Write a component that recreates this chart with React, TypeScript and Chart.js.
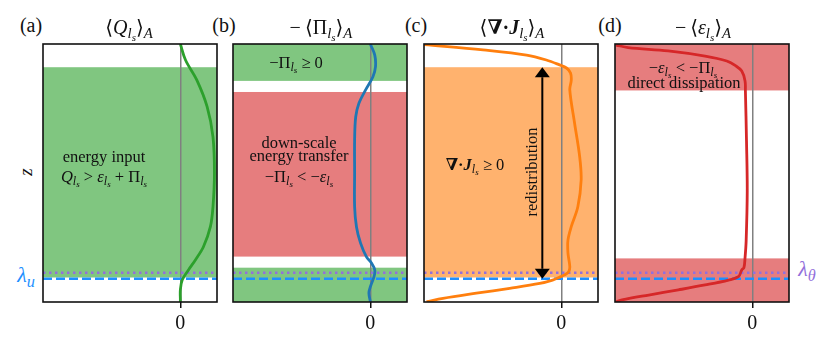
import React, { useEffect, useRef } from "react";
import { Chart, registerables } from "chart.js";
Chart.register(...registerables);

// ---------- data ----------
const X_MIN = -3.75;
const X_MAX = 1;
const xTicks = [0];
const lambdaU = 0.0903;
const lambdaTheta = 0.1136;

// (a) <Q>
const qZ = [1.0, 0.938, 0.86, 0.757, 0.64, 0.5, 0.369, 0.292, 0.214, 0.163, 0.124, 0.085, 0.047, 0.008, 0];
const qVal = [0, 0.14, 0.45, 0.73, 0.89, 0.93, 0.89, 0.82, 0.63, 0.41, 0.22, 0.05, 0, 0, 0];

// (b) -<Pi>
const piZ = [1.0, 0.957, 0.912, 0.873, 0.822, 0.771, 0.718, 0.628, 0.5, 0.369, 0.292, 0.229, 0.176, 0.151, 0.124, 0.098, 0.059, 0.035, 0.001];
const piVal = [0, 0.12, 0.14, 0.07, -0.13, -0.31, -0.4, -0.43, -0.43, -0.43, -0.38, -0.27, -0.11, 0.03, 0.12, 0.1, 0, -0.04, 0];

// (c) <div J>
const divZ = [0.998, 0.977, 0.957, 0.938, 0.919, 0.907, 0.888, 0.86, 0.822, 0.694, 0.563, 0.473, 0.369, 0.292, 0.24, 0.19, 0.137, 0.117, 0.105, 0.096, 0.085, 0.072, 0.053, 0.034, 0.014, 0.001];
const divVal = [-3.74, -2.14, -0.95, -0.41, -0.05, 0.14, 0.25, 0.27, 0.23, 0.36, 0.5, 0.54, 0.45, 0.27, 0.18, 0.18, 0.23, 0.2, 0.09, -0.05, -0.24, -0.59, -1.41, -2.32, -3.23, -3.68];

// (d) -<eps>
const epsZ = [0.996, 0.986, 0.973, 0.953, 0.934, 0.915, 0.895, 0.857, 0.818, 0.624, 0.43, 0.236, 0.172, 0.133, 0.124, 0.098, 0.085, 0.066, 0.047, 0.027, 0.008, 0.001];
const epsVal = [-3.72, -3.39, -2.3, -1.29, -0.7, -0.45, -0.29, -0.2, -0.19, -0.16, -0.14, -0.17, -0.2, -0.23, -0.29, -0.38, -0.65, -1.29, -2.02, -2.83, -3.56, -3.72];

// shaded regions (z ranges)
const bandsA = [[0.095, 0.91]];
const bandsBGreen = [[0.857, 1.0], [0.0, 0.133]];
const bandsBRed = [[0.176, 0.814]];
const bandsC = [[0.095, 0.91]];
const bandsD = [[0.82, 1.0], [0.0, 0.169]];

// redistribution arrow (x, z from, z to)
const arrowC = [-0.52, 0.09, 0.91];

// ---------- styles ----------
const GREEN = "#2ca02c";
const BLUE = "#1f77b4";
const ORANGE = "#ff7f0e";
const RED = "#d62728";
const GREEN_F = "rgba(44,160,44,0.6)";
const RED_F = "rgba(214,39,40,0.6)";
const ORANGE_F = "rgba(255,127,14,0.6)";
const DASH_C = "#1e90ff";
const DOT_C = "#9370db";
const FONT = "'Liberation Serif', 'DejaVu Serif', serif";

type Band = { r: number[]; c: string };
type Panel = {
  left: number; top: number; width: number; height: number;
  z: number[]; v: number[]; color: string; bands: Band[]; arrow?: number[];
};

const panels: Panel[] = [
  { left: 43, top: 44, width: 174, height: 258, z: qZ, v: qVal, color: GREEN, bands: bandsA.map(r => ({ r, c: GREEN_F })) },
  { left: 233, top: 44, width: 174, height: 258, z: piZ, v: piVal, color: BLUE, bands: [...bandsBGreen.map(r => ({ r, c: GREEN_F })), ...bandsBRed.map(r => ({ r, c: RED_F }))] },
  { left: 424, top: 44, width: 174, height: 258, z: divZ, v: divVal, color: ORANGE, bands: bandsC.map(r => ({ r, c: ORANGE_F })), arrow: arrowC },
  { left: 615, top: 44, width: 174, height: 258, z: epsZ, v: epsVal, color: RED, bands: bandsD.map(r => ({ r, c: RED_F })) },
];

const PAD = 2;
const AXIS_H = 42;

function Sub({ children }: { children: React.ReactNode }) {
  return <span style={{ fontSize: "0.74em", verticalAlign: "-0.28em", lineHeight: 0 }}>{children}</span>;
}
const I = ({ children }: { children: React.ReactNode }) => <i>{children}</i>;
const ls = <Sub><I>l</I><Sub><I>s</I></Sub></Sub>;

function T({ x, y, size, children, style }: { x: number; y: number; size: number; children: React.ReactNode; style?: React.CSSProperties }) {
  return (
    <div style={{ position: "absolute", left: x, top: y, transform: "translate(-50%,-50%)", fontFamily: FONT, fontSize: size, lineHeight: 1.15, whiteSpace: "nowrap", textAlign: "center", color: "#111", ...style }}>
      {children}
    </div>
  );
}

export default function App() {
  const refs = useRef<(HTMLCanvasElement | null)[]>([]);
  useEffect(() => {
    const charts = panels.map((p, idx) => {
      const canvas = refs.current[idx]!;
      const decor = {
        id: "decor" + idx,
        beforeDraw(chart: any) {
          const { ctx, chartArea, scales } = chart;
          ctx.save();
          p.bands.forEach(b => {
            const y1 = scales.y.getPixelForValue(b.r[1]);
            const y2 = scales.y.getPixelForValue(b.r[0]);
            ctx.fillStyle = b.c;
            ctx.fillRect(chartArea.left, y1, chartArea.right - chartArea.left, y2 - y1);
          });
          ctx.restore();
        },
        afterDraw(chart: any) {
          const { ctx, chartArea, scales } = chart;
          ctx.save();
          if (p.arrow) {
            const ax = scales.x.getPixelForValue(p.arrow[0]);
            const yb = scales.y.getPixelForValue(p.arrow[1]);
            const yt = scales.y.getPixelForValue(p.arrow[2]);
            const hl = 10, hw = 7.5;
            ctx.strokeStyle = "#000";
            ctx.fillStyle = "#000";
            ctx.lineWidth = 2;
            ctx.beginPath();
            ctx.moveTo(ax, yt + hl);
            ctx.lineTo(ax, yb - hl);
            ctx.stroke();
            ctx.beginPath();
            ctx.moveTo(ax, yt); ctx.lineTo(ax - hw, yt + hl); ctx.lineTo(ax + hw, yt + hl); ctx.closePath(); ctx.fill();
            ctx.beginPath();
            ctx.moveTo(ax, yb); ctx.lineTo(ax - hw, yb - hl); ctx.lineTo(ax + hw, yb - hl); ctx.closePath(); ctx.fill();
          }
          ctx.strokeStyle = "#111";
          ctx.lineWidth = 1.6;
          ctx.strokeRect(chartArea.left, chartArea.top, chartArea.right - chartArea.left, chartArea.bottom - chartArea.top);
          ctx.restore();
        },
      };
      return new Chart(canvas, {
        type: "scatter",
        data: {
          datasets: [
            { data: p.z.map((zz, i) => ({ x: p.v[i], y: zz })), showLine: true, borderColor: p.color, borderWidth: 2.8, pointRadius: 0, tension: 0.35, fill: false } as any,
            { data: [{ x: X_MIN, y: lambdaU }, { x: X_MAX, y: lambdaU }], showLine: true, borderColor: DASH_C, borderWidth: 2.5, borderDash: [9, 4], pointRadius: 0 },
            { data: [{ x: X_MIN, y: lambdaTheta }, { x: X_MAX, y: lambdaTheta }], showLine: true, borderColor: DOT_C, borderWidth: 2.5, borderDash: [2.5, 3.5], pointRadius: 0 },
          ],
        },
        options: {
          animation: false,
          responsive: false,
          maintainAspectRatio: false,
          events: [],
          layout: { padding: { left: PAD, right: PAD, top: PAD, bottom: 0 } },
          plugins: { legend: { display: false }, tooltip: { enabled: false }, title: { display: false } },
          scales: {
            x: {
              type: "linear", min: X_MIN, max: X_MAX,
              afterBuildTicks: (s: any) => { s.ticks = xTicks.map(v => ({ value: v })); },
              afterFit: (s: any) => { s.height = AXIS_H; },
              grid: { color: "#808080", lineWidth: 1.5, tickColor: "#111", tickWidth: 1.5, tickLength: 6, drawOnChartArea: true },
              border: { display: false },
              ticks: { font: { family: FONT, size: 20 }, color: "#111", padding: 4, maxRotation: 0 },
            },
            y: { type: "linear", min: 0, max: 1, display: false },
          },
        },
        plugins: [decor],
      });
    });
    return () => charts.forEach(c => c.destroy());
  }, []);

  return (
    <div style={{ position: "fixed", left: 0, top: 0, width: 831, height: 349, background: "#fff", overflow: "hidden" }}>
      {panels.map((p, i) => (
        <canvas
          key={i}
          ref={el => { refs.current[i] = el; }}
          width={p.width + 2 * PAD}
          height={p.height + PAD + AXIS_H}
          style={{ position: "absolute", left: p.left - PAD, top: p.top - PAD, width: p.width + 2 * PAD, height: p.height + PAD + AXIS_H }}
        />
      ))}
      {/* panel labels */}
      <T x={31} y={25} size={20}>(a)</T>
      <T x={224} y={25} size={20}>(b)</T>
      <T x={416} y={25} size={20}>(c)</T>
      <T x={610} y={25} size={20}>(d)</T>
      {/* titles */}
      <T x={129} y={27} size={20}>⟨<I>Q</I>{ls}⟩<Sub><I>A</I></Sub></T>
      <T x={321} y={27} size={20}>−&thinsp;⟨Π{ls}⟩<Sub><I>A</I></Sub></T>
      <T x={512} y={27} size={20}>⟨<b>∇·<I>J</I></b>{ls}⟩<Sub><I>A</I></Sub></T>
      <T x={703} y={27} size={20}>−&thinsp;⟨<I>ε</I>{ls}⟩<Sub><I>A</I></Sub></T>
      {/* y label */}
      <T x={26} y={172} size={19} style={{ transform: "translate(-50%,-50%) rotate(-90deg)" }}><I>z</I></T>
      {/* panel a text */}
      <T x={104} y={157} size={16.5}>energy input</T>
      <T x={104} y={177} size={16.5}><I>Q</I>{ls} &gt; <I>ε</I>{ls} + Π{ls}</T>
      {/* panel b text */}
      <T x={296} y={63} size={16.5}>−Π{ls} ≥ 0</T>
      <T x={299} y={143} size={16.5}>down-scale</T>
      <T x={299} y={156} size={16.5}>energy transfer</T>
      <T x={299} y={177} size={16.5}>−Π{ls} &lt; −<I>ε</I>{ls}</T>
      {/* panel c text */}
      <T x={475} y={165} size={16.5}><b>∇·<I>J</I></b>{ls} ≥ 0</T>
      <T x={532} y={172} size={16.5} style={{ transform: "translate(-50%,-50%) rotate(-90deg)" }}>redistribution</T>
      {/* panel d text */}
      <T x={683} y={68} size={16.5}>−<I>ε</I>{ls} &lt; −Π{ls}</T>
      <T x={684} y={83} size={16.5}>direct dissipation</T>
      {/* lambda labels */}
      <T x={26} y={275} size={22} style={{ color: DASH_C }}><I>λ</I><Sub><I>u</I></Sub></T>
      <T x={807} y={269} size={22} style={{ color: DOT_C }}><I>λ</I><Sub><I>θ</I></Sub></T>
    </div>
  );
}
